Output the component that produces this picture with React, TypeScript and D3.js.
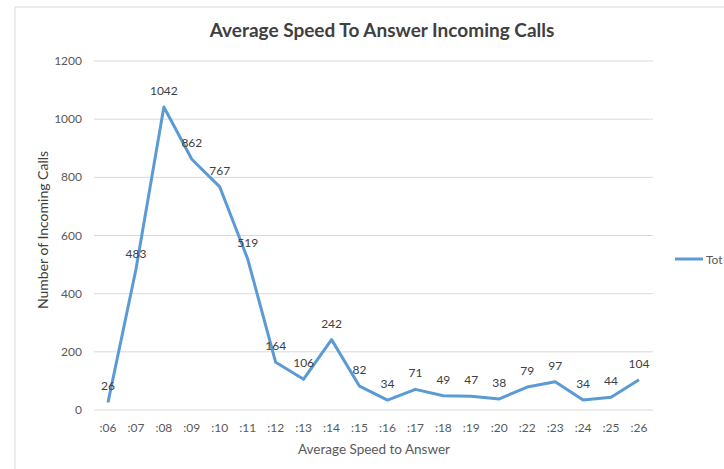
import React from "react";
import * as d3 from "d3";

const categories = [":06", ":07", ":08", ":09", ":10", ":11", ":12", ":13", ":14", ":15", ":16", ":17", ":18", ":19", ":20", ":22", ":23", ":24", ":25", ":26"];
const totals = [26, 483, 1042, 862, 767, 519, 164, 106, 242, 82, 34, 71, 49, 47, 38, 79, 97, 34, 44, 104];
const yTicks = [0, 200, 400, 600, 800, 1000, 1200];
const chartTitle = "Average Speed To Answer Incoming Calls";
const xTitle = "Average Speed to Answer";
const yTitle = "Number of Incoming Calls";
const seriesName = "Tot";

const W = 724, H = 469;
const left = 94, right = 653, top = 61, bottom = 410;
const FONT = "Lato, 'Open Sans', sans-serif";
const BLUE = "#5B9BD5";

export default function App() {
  const x = d3.scaleBand<string>().domain(categories).range([left, right]).paddingInner(0).paddingOuter(0);
  const y = d3.scaleLinear().domain([0, 1200]).range([bottom, top]);
  const cx = (c: string) => (x(c) ?? 0) + x.bandwidth() / 2;
  const line = d3.line<number>().x((_, i) => cx(categories[i])).y((d) => y(d));
  return (
    <svg width={W} height={H} style={{ position: "absolute", left: 0, top: 0, background: "#fff" }} fontFamily={FONT}>
      <rect x={0} y={0} width={W} height={H} fill="#fff" />
      <line x1={15} y1={7} x2={W} y2={7} stroke="#d9d9d9" strokeWidth={1} />
      <line x1={15} y1={7} x2={15} y2={H} stroke="#d9d9d9" strokeWidth={1} />
      <text x={382} y={37} textAnchor="middle" fontSize={19} fontWeight="bold" fill="#404040">{chartTitle}</text>
      {yTicks.map((t) => (
        <g key={t}>
          <line x1={left} x2={right} y1={y(t)} y2={y(t)} stroke="#d9d9d9" strokeWidth={1} />
          <text x={82} y={y(t) + 4} textAnchor="end" fontSize={12} fill="#595959">{t}</text>
        </g>
      ))}
      {categories.map((c) => (
        <text key={c} x={cx(c)} y={432} textAnchor="middle" fontSize={12} fill="#595959">{c}</text>
      ))}
      <text x={374} y={454} textAnchor="middle" fontSize={13.5} fill="#595959">{xTitle}</text>
      <text transform={`translate(48,${230}) rotate(-90)`} textAnchor="middle" fontSize={14} fill="#404040">{yTitle}</text>
      <path d={line(totals) ?? ""} fill="none" stroke={BLUE} strokeWidth={3} strokeLinejoin="round" />
      {totals.map((v, i) => (
        <text key={i} x={cx(categories[i])} y={y(v) - 12} textAnchor="middle" fontSize={12} fill="#404040">{v}</text>
      ))}
      <line x1={675} x2={703} y1={259} y2={259} stroke={BLUE} strokeWidth={3} />
      <text x={706} y={263.5} fontSize={12} fill="#595959">{seriesName}</text>
    </svg>
  );
}
